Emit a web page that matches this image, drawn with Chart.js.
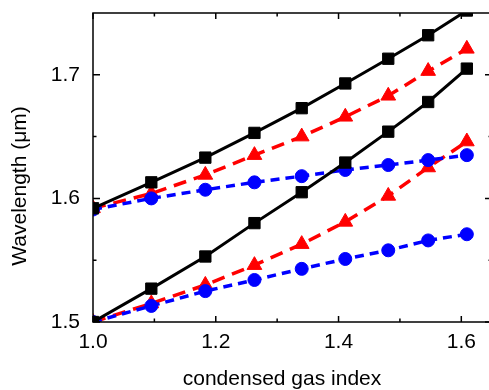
<!DOCTYPE html>
<html>
<head>
<meta charset="utf-8">
<script src="https://cdn.jsdelivr.net/npm/chart.js@4.4.1/dist/chart.umd.min.js"></script>
<style>
    html, body { margin: 0; padding: 0; background: #fff; overflow: hidden; }
    #wrap { width: 492px; height: 390px; }
</style>
</head>
<body>
<div id="wrap"><canvas id="chartCanvas" width="492" height="390"></canvas></div>
<script>
// condensed gas index (x) for every curve
const gasIndex = [1.0, 1.095, 1.183, 1.263, 1.340, 1.411, 1.481, 1.546, 1.609];

// wavelength (um)
const blackUpper = [1.592, 1.613, 1.633, 1.653, 1.673, 1.693, 1.713, 1.732, 1.752];
const blackLower = [1.500, 1.527, 1.553, 1.580, 1.605, 1.629, 1.654, 1.678, 1.705];
const blueUpper  = [1.591, 1.600, 1.607, 1.613, 1.618, 1.623, 1.627, 1.631, 1.635];
const blueLower  = [1.500, 1.513, 1.525, 1.534, 1.543, 1.551, 1.558, 1.566, 1.571];
const redUpper   = [1.592, 1.604, 1.619, 1.635, 1.650, 1.666, 1.683, 1.703, 1.721];
const redLower   = [1.500, 1.515, 1.530, 1.546, 1.563, 1.581, 1.602, 1.625, 1.646];

// axis ticks
const xTicks = [1.0, 1.2, 1.4, 1.6];
const xMinorTicks = [1.1, 1.3, 1.5];
const yTicks = [1.5, 1.6, 1.7];
const yMinorTicks = [1.55, 1.65];

const xTitle = 'condensed gas index';
const yTitle = 'Wavelength (\u03bcm)';

const FONT = "'Liberation Sans', Arial, sans-serif";

function toPoints(ys) {
    return gasIndex.map((x, i) => ({ x: x, y: ys[i] }));
}

function lineSet(ys, color, style, radius, dash, width) {
    return {
        data: toPoints(ys),
        borderColor: color,
        backgroundColor: color,
        borderWidth: width,
        borderDash: dash,
        pointStyle: style,
        pointRadius: radius,
        pointBorderWidth: 1,
        pointBorderColor: color,
        pointBackgroundColor: color,
        tension: 0,
        fill: false,
        clip: 0
    };
}

// frame, inward ticks and axis titles
const frameAndTitles = {
    id: 'frameAndTitles',
    afterDatasetsDraw(chart) {
        const ctx = chart.ctx;
        const a = chart.chartArea;
        const xs = chart.scales.x;
        const ys = chart.scales.y;
        ctx.save();
        ctx.strokeStyle = '#000';
        ctx.lineWidth = 1.5;
        ctx.strokeRect(a.left, a.top, a.right - a.left, a.bottom - a.top);

        ctx.beginPath();
        const xt = (v, len) => {
            const px = xs.getPixelForValue(v);
            ctx.moveTo(px, a.bottom); ctx.lineTo(px, a.bottom - len);
            ctx.moveTo(px, a.top); ctx.lineTo(px, a.top + len);
        };
        const yt = (v, len) => {
            const py = ys.getPixelForValue(v);
            ctx.moveTo(a.left, py); ctx.lineTo(a.left + len, py);
            ctx.moveTo(a.right, py); ctx.lineTo(a.right - len, py);
        };
        xTicks.forEach(v => xt(v, 6));
        xMinorTicks.forEach(v => xt(v, 3.5));
        yTicks.forEach(v => yt(v, 7));
        yMinorTicks.forEach(v => yt(v, 3.5));
        ctx.stroke();

        ctx.fillStyle = '#000';
        ctx.font = '21px ' + FONT;
        ctx.textAlign = 'center';
        ctx.textBaseline = 'alphabetic';
        ctx.fillText(xTitle, 282, 385);

        ctx.translate(25.5, 186);
        ctx.rotate(-Math.PI / 2);
        ctx.fillText(yTitle, 0, 0);
        ctx.restore();
    }
};

new Chart(document.getElementById('chartCanvas').getContext('2d'), {
    type: 'line',
    data: {
        datasets: [
            lineSet(blackUpper, '#000000', 'rect', 8, [], 3),
            lineSet(blackLower, '#000000', 'rect', 8, [], 3),
            lineSet(blueUpper, '#0000ff', 'circle', 6.5, [9, 6], 3.5),
            lineSet(blueLower, '#0000ff', 'circle', 6.5, [9, 6], 3.5),
            lineSet(redUpper, '#ff0000', 'triangle', 8.5, [13, 8], 3.5),
            lineSet(redLower, '#ff0000', 'triangle', 8.5, [13, 8], 3.5)
        ]
    },
    options: {
        responsive: false,
        animation: false,
        layout: { autoPadding: false, padding: { left: 0, top: 13, right: 0, bottom: 0 } },
        plugins: {
            legend: { display: false },
            tooltip: { enabled: false }
        },
        scales: {
            x: {
                type: 'linear',
                min: 1.0,
                max: 1.65,
                grid: { display: false, drawTicks: false },
                border: { display: false },
                afterBuildTicks: function (scale) {
                    scale.ticks = xTicks.map(v => ({ value: v }));
                },
                afterFit: function (scale) {
                    scale.height = 68;
                    scale.paddingLeft = 0;
                    scale.paddingRight = 0;
                },
                ticks: {
                    padding: 8,
                    color: '#000',
                    maxRotation: 0,
                    font: { family: FONT, size: 21 },
                    callback: v => Number(v).toFixed(1)
                }
            },
            y: {
                type: 'linear',
                min: 1.5,
                max: 1.75,
                grid: { display: false, drawTicks: false },
                border: { display: false },
                afterBuildTicks: function (scale) {
                    scale.ticks = yTicks.map(v => ({ value: v }));
                },
                afterFit: function (scale) {
                    scale.width = 93;
                    scale.paddingTop = 0;
                    scale.paddingBottom = 0;
                },
                ticks: {
                    padding: 13,
                    color: '#000',
                    font: { family: FONT, size: 21 },
                    callback: v => Number(v).toFixed(1)
                }
            }
        }
    },
    plugins: [frameAndTitles]
});
</script>
</body>
</html>
